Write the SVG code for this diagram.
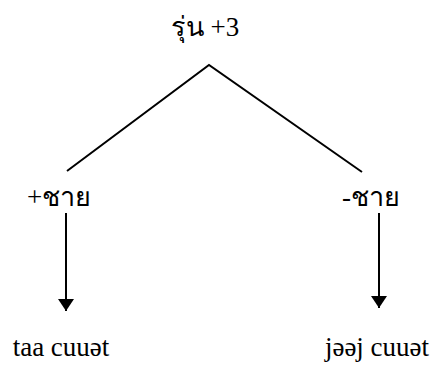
<svg xmlns="http://www.w3.org/2000/svg" width="436" height="365" viewBox="0 0 436 365">
<style>
.lbl{font-family:'Liberation Serif',serif;font-size:27px;text-anchor:middle}
.ln{stroke:#000;stroke-width:2;fill:none}
</style>
<defs>
<marker id="ah" markerWidth="6" markerHeight="8" refX="6" refY="4" orient="auto" markerUnits="strokeWidth">
<path d="M0,0 L6,4 L0,8 Z" fill="#000"/>
</marker>
</defs>
<rect width="436" height="365" fill="#fff"/>
<g id="taa"><text class="lbl" x="61" y="356">taa cuuət</text></g>
<g id="jeej"><text class="lbl" x="377" y="356">jəəj cuuət</text></g>
<g id="root"><text class="lbl" x="205" y="36">รุ่น +3</text></g>
<g id="male"><text class="lbl" x="59" y="206">+ชาย</text></g>
<g id="female"><text class="lbl" x="371" y="206">-ชาย</text></g>
<g id="connectors">
<path class="ln" d="M67,171 L209,65 L362,172"/>
<path class="ln" d="M66,213 L66,311" marker-end="url(#ah)"/>
<path class="ln" d="M379,213 L379,308" marker-end="url(#ah)"/>
</g>
</svg>
